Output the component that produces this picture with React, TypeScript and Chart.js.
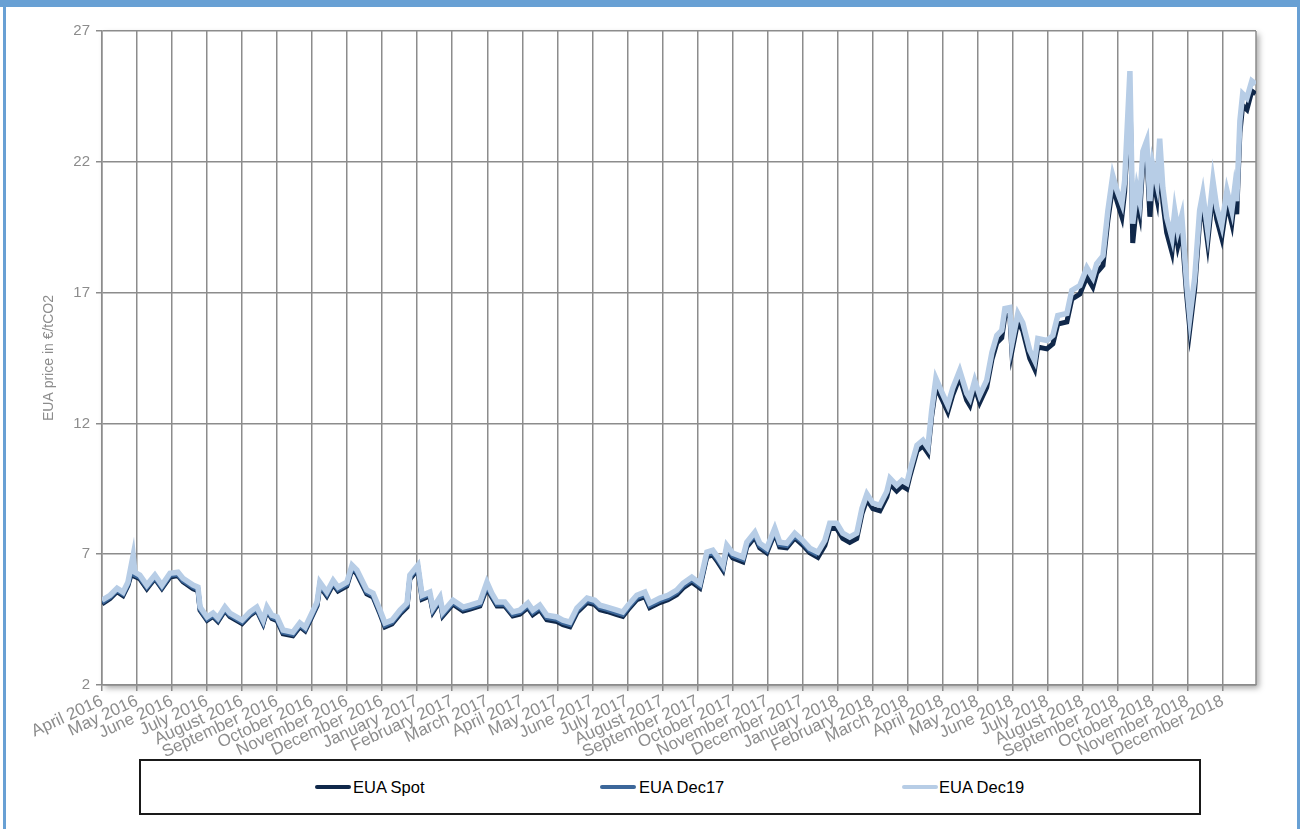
import React, { useEffect, useRef } from "react";
import { Chart, registerables } from "chart.js";

Chart.register(...registerables);

const monthLabels = [
  "April 2016", "May 2016", "June 2016", "July 2016", "August 2016", "September 2016",
  "October 2016", "November 2016", "December 2016", "January 2017", "February 2017", "March 2017",
  "April 2017", "May 2017", "June 2017", "July 2017", "August 2017", "September 2017",
  "October 2017", "November 2017", "December 2017", "January 2018", "February 2018", "March 2018",
  "April 2018", "May 2018", "June 2018", "July 2018", "August 2018", "September 2018",
  "October 2018", "November 2018", "December 2018",
];

const yTicks = [2, 7, 12, 17, 22, 27];

// dates in months since 1 April 2016
const dates = [
  0.0, 0.23, 0.43, 0.6, 0.74, 0.89, 0.94, 1.08, 1.28, 1.51, 1.71, 1.94, 2.17, 2.31, 2.6, 2.74, 2.8,
  3.0, 3.17, 3.31, 3.51, 3.65, 4.0, 4.22, 4.42, 4.6, 4.71, 4.85, 5.0, 5.17, 5.45, 5.65, 5.8, 5.94,
  6.14, 6.22, 6.42, 6.6, 6.74, 6.99, 7.14, 7.28, 7.56, 7.74, 7.94, 8.08, 8.28, 8.51, 8.71, 8.79,
  9.02, 9.14, 9.36, 9.45, 9.65, 9.73, 10.02, 10.31, 10.51, 10.79, 10.99, 11.13, 11.28, 11.5, 11.73,
  11.93, 12.16, 12.3, 12.5, 12.7, 12.99, 13.16, 13.36, 13.56, 13.85, 14.07, 14.22, 14.42, 14.7,
  14.87, 15.02, 15.27, 15.5, 15.64, 15.93, 16.16, 16.41, 16.59, 16.84, 17.07, 17.27, 17.44, 17.58,
  17.73, 17.84, 18.01, 18.3, 18.41, 18.64, 18.78, 18.98, 19.21, 19.35, 19.55, 19.78, 20.01, 20.21,
  20.44, 20.64, 20.78, 20.98, 21.15, 21.35, 21.55, 21.7, 21.84, 22.01, 22.21, 22.41, 22.5, 22.69,
  22.84, 22.98, 23.07, 23.27, 23.44, 23.58, 23.69, 23.81, 24.01, 24.15, 24.29, 24.49, 24.69, 24.78,
  24.92, 25.06, 25.26, 25.41, 25.55, 25.69, 25.78, 25.92, 25.98, 26.15, 26.29, 26.49, 26.63, 26.72,
  26.98, 27.15, 27.29, 27.55, 27.69, 27.92, 28.12, 28.29, 28.4, 28.58, 28.72, 28.86, 28.98, 29.12,
  29.2, 29.35, 29.43, 29.55, 29.63, 29.72, 29.83, 29.92, 30.0, 30.12, 30.2, 30.29, 30.4, 30.55,
  30.63, 30.72, 30.83, 30.97, 31.06, 31.2, 31.34, 31.43, 31.57, 31.72, 31.83, 31.97, 32.12, 32.26,
  32.34, 32.4, 32.49, 32.57, 32.69, 32.83, 32.94,
];

const dec19 = [
  5.24, 5.43, 5.7, 5.55, 5.93, 6.96, 6.31, 6.2, 5.82, 6.2, 5.82, 6.27, 6.31, 6.08, 5.82, 5.74, 4.98,
  4.6, 4.75, 4.56, 4.98, 4.75, 4.48, 4.79, 4.98, 4.48, 4.98, 4.67, 4.6, 4.1, 4.02, 4.37, 4.21, 4.6,
  5.17, 5.93, 5.55, 6.0, 5.74, 5.93, 6.58, 6.39, 5.63, 5.51, 4.86, 4.37, 4.48, 4.86, 5.13, 6.2,
  6.58, 5.43, 5.55, 4.94, 5.36, 4.79, 5.24, 4.98, 5.05, 5.17, 5.93, 5.51, 5.17, 5.17, 4.79,
  4.86, 5.13, 4.86, 5.05, 4.67, 4.6, 4.48, 4.4, 4.94, 5.32, 5.24, 5.05, 4.98, 4.86,
  4.79, 5.05, 5.43, 5.55, 5.13, 5.32, 5.43, 5.63, 5.89, 6.12, 5.89, 7.08, 7.15, 6.89,
  6.58, 7.34, 7.04, 6.89, 7.46, 7.84, 7.42, 7.23, 7.99, 7.46, 7.42, 7.8, 7.53, 7.23,
  7.08, 7.53, 8.18, 8.18, 7.8, 7.65, 7.8, 8.76, 9.3, 8.95, 8.87, 9.4, 9.9, 9.63,
  9.82, 9.71, 10.2, 11.16, 11.35, 11.08, 12.5, 13.72, 13.1, 12.69, 13.34, 14.02, 13.15, 12.95,
  13.64, 13.07, 13.64, 14.71, 15.36, 15.55, 16.39, 16.43, 15.05, 16.2, 15.85, 14.79, 14.4, 15.24,
  15.17, 15.36, 16.12, 16.2, 17.08, 17.27, 17.95, 17.57, 18.1, 18.4, 20.13, 21.47, 20.9, 20.4,
  21.28, 25.47, 19.63, 21.0, 20.5, 22.4, 22.8, 20.5, 21.9, 21.16, 22.88, 21.0, 19.86, 19.1,
  20.13, 19.37, 19.94, 17.34, 16.05, 17.57, 20.13, 20.78, 19.37, 21.28, 20.24, 19.56, 20.9, 20.13,
  21.0, 20.5, 23.56, 24.6, 24.44, 25.09, 24.97,
];

const spot = [
  5.1, 5.3, 5.57, 5.42, 5.8, 6.5, 6.15, 6.06, 5.68, 6.07, 5.69, 6.13, 6.18, 5.95, 5.68, 5.6, 4.85,
  4.47, 4.62, 4.43, 4.85, 4.62, 4.35, 4.66, 4.85, 4.35, 4.84, 4.54, 4.46, 3.96, 3.88, 4.23, 4.07, 4.46,
  5.03, 5.78, 5.4, 5.85, 5.59, 5.78, 6.43, 6.24, 5.48, 5.36, 4.71, 4.22, 4.33, 4.71, 4.98, 6.05,
  6.43, 5.28, 5.4, 4.79, 5.21, 4.64, 5.09, 4.83, 4.9, 5.02, 5.7, 5.36, 5.02, 5.02, 4.64,
  4.71, 4.96, 4.69, 4.88, 4.5, 4.43, 4.31, 4.23, 4.77, 5.15, 5.07, 4.88, 4.81, 4.69,
  4.62, 4.88, 5.26, 5.38, 4.96, 5.15, 5.26, 5.45, 5.71, 5.94, 5.71, 6.9, 6.97, 6.71,
  6.4, 7.16, 6.86, 6.71, 7.28, 7.66, 7.24, 7.05, 7.81, 7.28, 7.24, 7.62, 7.35, 7.05,
  6.88, 7.33, 7.98, 7.98, 7.6, 7.45, 7.6, 8.55, 9.09, 8.74, 8.66, 9.19, 9.69, 9.42,
  9.61, 9.5, 9.99, 10.95, 11.14, 10.87, 12.28, 13.4, 12.85, 12.44, 13.08, 13.76, 12.89, 12.69,
  13.38, 12.8, 13.37, 14.44, 15.08, 15.27, 16.1, 16.14, 14.75, 15.9, 15.55, 14.48, 14.08, 14.92,
  14.85, 15.04, 15.8, 15.88, 16.75, 16.94, 17.6, 17.22, 17.75, 18.04, 19.75, 21.08, 20.5, 19.9,
  20.85, 24.8, 18.9, 20.5, 20.0, 21.95, 22.35, 19.9, 21.4, 20.6, 22.4, 20.45, 19.3, 18.55,
  19.6, 18.8, 19.4, 16.9, 15.6, 17.15, 19.7, 20.35, 18.9, 20.85, 19.8, 19.1, 20.45, 19.65,
  20.55, 20.0, 23.1, 24.15, 24.0, 24.7, 24.6,
];

const dec17 = [
  5.16, 5.36, 5.63, 5.48, 5.86, 6.7, 6.2, 6.12, 5.74, 6.12, 5.74, 6.19, 6.23, 6.0, 5.74, 5.66, 4.9,
  4.52, 4.67, 4.48, 4.9, 4.67, 4.4, 4.71, 4.9, 4.4, 4.9, 4.59, 4.52, 4.02, 3.94, 4.29, 4.13, 4.52,
  5.09, 5.85, 5.47, 5.92, 5.66, 5.85, 6.5, 6.31, 5.55, 5.43, 4.78, 4.29, 4.4, 4.78, 5.05, 6.12,
  6.5, 5.35, 5.47, 4.86, 5.28, 4.71, 5.16, 4.9, 4.97, 5.09, 5.8, 5.43, 5.09, 5.09, 4.71,
  4.78, 5.04, 4.77, 4.96, 4.58, 4.51, 4.39, 4.31, 4.85, 5.23, 5.15, 4.96, 4.89, 4.77,
  4.7, 4.96, 5.34, 5.46, 5.04, 5.23, 5.34, 5.54, 5.8, 6.03, 5.8, 6.99, 7.06, 6.8,
  6.49, 7.25, 6.95, 6.8, 7.37, 7.75, 7.33, 7.14, 7.9, 7.37, 7.33, 7.71, 7.44, 7.14,
  6.98, null, null, null, null, null, null, null, null, null, null, null, null, null,
  null, null, null, null, null, null, null, null, null, null, null, null, null, null,
  null, null, null, null, null, null, null, null, null, null, null, null, null, null,
  null, null, null, null, null, null, null, null, null, null, null, null, null, null,
  null, null, null, null, null, null, null, null, null, null, null, null, null, null,
  null, null, null, null, null, null, null, null, null, null, null, null, null, null,
  null, null, null, null, null, null, null,
];

const seriesNames = ["EUA Spot", "EUA Dec17", "EUA Dec19"];
const seriesColors = ["#10284a", "#3c679a", "#b7cde6"];

const GRID = "#8c8c8c";

export default function App() {
  const canvasRef = useRef<HTMLCanvasElement>(null);

  useEffect(() => {
    document.body.style.margin = "0";
    Chart.defaults.font.family = "'Liberation Sans', Arial, sans-serif";
    const toPoints = (arr: (number | null)[]) =>
      dates.map((d, i) => ({ x: d, y: arr[i] }));

    const shadowPlugin = {
      id: "areaShadow",
      beforeDraw(chart: any) {
        const { ctx, chartArea: a } = chart;
        ctx.save();
        ctx.shadowColor = "rgba(0,0,0,0.35)";
        ctx.shadowBlur = 6;
        ctx.shadowOffsetX = 3;
        ctx.shadowOffsetY = 3;
        ctx.fillStyle = "#ffffff";
        ctx.fillRect(a.left, a.top, a.right - a.left, a.bottom - a.top);
        ctx.restore();
      },
      beforeDatasetsDraw(chart: any) {
        const { ctx, chartArea: a } = chart;
        ctx.save();
        ctx.strokeStyle = GRID;
        ctx.lineWidth = 1.5;
        ctx.beginPath();
        ctx.moveTo(a.right, a.top);
        ctx.lineTo(a.right, a.bottom);
        ctx.stroke();
        ctx.restore();
      },
    };

    const chart = new Chart(canvasRef.current!, {
      type: "line",
      data: {
        datasets: [
          {
            label: seriesNames[0],
            data: toPoints(spot),
            borderColor: seriesColors[0],
            borderWidth: 5,
            pointRadius: 0,
            tension: 0,
            order: 3,
          },
          {
            label: seriesNames[1],
            data: toPoints(dec17),
            borderColor: seriesColors[1],
            borderWidth: 5,
            pointRadius: 0,
            tension: 0,
            order: 2,
          },
          {
            label: seriesNames[2],
            data: toPoints(dec19),
            borderColor: seriesColors[2],
            borderWidth: 5.5,
            pointRadius: 0,
            tension: 0,
            order: 1,
          },
        ],
      },
      options: {
        responsive: false,
        animation: false,
        layout: { padding: { left: 35, top: 31, right: 44, bottom: 0 } },
        plugins: { legend: { display: false }, tooltip: { enabled: false } },
        scales: {
          x: {
            type: "linear",
            min: 0,
            max: 32.95,
            afterBuildTicks: (s: any) => {
              s.ticks = monthLabels.map((_, i) => ({ value: i }));
            },
            afterFit: (s: any) => {
              s.height = 75;
            },
            ticks: {
              autoSkip: false,
              minRotation: 25,
              maxRotation: 25,
              color: GRID,
              font: { size: 17 },
              padding: 0,
              callback: (v: any) => monthLabels[Math.round(Number(v))],
            },
            grid: { color: GRID, lineWidth: 1.5, tickLength: 6 },
            border: { color: GRID, width: 1.5 },
          },
          y: {
            min: 2,
            max: 27,
            afterBuildTicks: (s: any) => {
              s.ticks = yTicks.map((v) => ({ value: v }));
            },
            afterFit: (s: any) => {
              s.width = 67;
            },
            ticks: { color: GRID, font: { size: 15 }, padding: 6 },
            grid: { color: GRID, lineWidth: 1.5, tickLength: 6 },
            border: { color: GRID, width: 1.5 },
            title: {
              display: true,
              text: "EUA price in €/tCO2",
              color: GRID,
              font: { size: 14 },
              padding: { top: 6, bottom: 4 },
            },
          },
        },
      },
      plugins: [shadowPlugin],
    });
    return () => chart.destroy();
  }, []);

  const legendPos = [
    { line: 315, text: 353 },
    { line: 600, text: 639 },
    { line: 902, text: 939 },
  ];

  return (
    <div
      style={{
        position: "relative",
        width: 1300,
        height: 829,
        overflow: "hidden",
        background: "#ffffff",
        fontFamily: "'Liberation Sans', Arial, sans-serif",
      }}
    >
      <div style={{ position: "absolute", left: 0, top: 0, width: 1300, height: 7, background: "#68a0d4" }} />
      <div style={{ position: "absolute", left: 3, top: 0, width: 3, height: 829, background: "#68a0d4" }} />
      <div style={{ position: "absolute", left: 1297, top: 0, width: 3, height: 829, background: "#68a0d4" }} />
      <canvas
        ref={canvasRef}
        width={1300}
        height={760}
        style={{ position: "absolute", left: 0, top: 0, width: 1300, height: 760 }}
      />
      <div
        style={{
          position: "absolute",
          left: 139,
          top: 759,
          width: 1062,
          height: 56,
          border: "2px solid #1a1a1a",
          boxSizing: "border-box",
          background: "#ffffff",
        }}
      />
      {seriesNames.map((name, i) => (
        <React.Fragment key={name}>
          <div
            style={{
              position: "absolute",
              left: legendPos[i].line,
              top: 785,
              width: 36,
              height: 4,
              borderRadius: 2,
              background: seriesColors[i],
            }}
          />
          <div
            style={{
              position: "absolute",
              left: legendPos[i].text,
              top: 777,
              fontSize: 16.5,
              lineHeight: "20px",
              color: "#000000",
              whiteSpace: "nowrap",
            }}
          >
            {name}
          </div>
        </React.Fragment>
      ))}
    </div>
  );
}
